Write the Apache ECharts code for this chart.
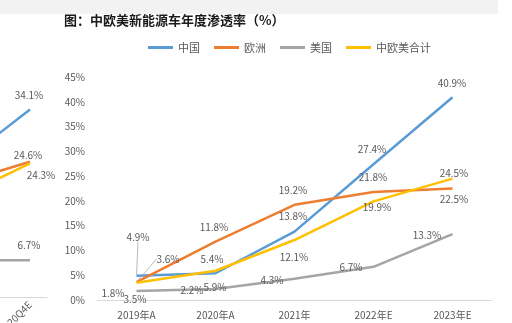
<!DOCTYPE html>
<html><head><meta charset="utf-8">
<script src="https://cdn.jsdelivr.net/npm/echarts@6/dist/echarts.min.js"></script>
<style>html,body{margin:0;padding:0;background:#fff}#c{width:512px;height:323px}</style>
</head><body><div id="c"></div>
<script>
// ---- data ----
const titleText = '图：中欧美新能源车年度渗透率（%）';
const seriesNames = ['中国', '欧洲', '美国', '中欧美合计'];
const categories = ['2019年A', '2020年A', '2021年', '2022年E', '2023年E'];
const china = [4.9, 5.4, 13.8, 27.4, 40.9];
const europe = [3.6, 11.8, 19.2, 21.8, 22.5];
const usa = [1.8, 2.2, 4.3, 6.7, 13.3];
const total = [3.5, 5.9, 12.1, 19.9, 24.5];
const yMin = 0, yMax = 45, yStep = 5;

// neighbouring (cropped) chart on the left
const leftCategories = ['2020Q1', '2020Q2', '2020Q3', '2020Q4E'];
const leftChina = [21.0, 25.0, 29.3, 34.1];
const leftEurope = [18.5, 20.5, 22.7, 24.6];
const leftUsa = [5.0, 5.8, 6.7, 6.7];
const leftTotal = [16.0, 18.5, 21.3, 24.3];

// ---- styles / label placement ----
const colors = ['#5B9BD5', '#ED7D31', '#A5A5A5', '#FFC000'];
const txt = '#595959';
const font = '"Noto Sans CJK SC", "Noto Sans", sans-serif';
const labelOffsets = [
  [[1.5, -39], [-3.5, -14], [-1.5, -15], [-1.5, -15], [-0.5, -14]],
  [[31.5, -23], [-1.5, -14.5], [-1.5, -15], [-0.5, -15], [1.5, 10.5]],
  [[-23.5, 2], [-23.5, 1], [-22.5, 1.3], [-22.5, 0.2], [-25.5, 1]],
  [[-1.5, 16.3], [-0.5, 16.2], [-0.5, 17], [3.5, 5.6], [1.5, -5.6]]
];
const leftOffsets = [[-1, -14], [-2, -6], [-1, -15], [11, 12]];
const clear = 'rgba(0,0,0,0)';

const chart = echarts.init(document.getElementById('c'), null, {renderer: 'canvas'});

function mainSeries(i, values) {
  return {
    name: seriesNames[i], type: 'line', xAxisIndex: 0, yAxisIndex: 0,
    data: values.map((v, k) => (k === 0 && i < 2) ? {value: v, labelLine: {show: true, lineStyle: {color: '#a6a6a6', width: 0.8}}} : v),
    symbol: 'circle', symbolSize: 2, showSymbol: true,
    itemStyle: {color: clear, borderWidth: 0},
    lineStyle: {color: colors[i], width: 2.5},
    label: {show: true, position: 'inside', formatter: p => p.value + '%', color: txt, fontSize: 10, fontFamily: font},
    labelLine: {show: false},
    labelLayout: p => ({dx: labelOffsets[i][p.dataIndex][0], dy: labelOffsets[i][p.dataIndex][1]}),
    emphasis: {disabled: true}, animation: false
  };
}
function leftSeries(i, values) {
  const last = values.length - 1;
  return {
    name: seriesNames[i], type: 'line', xAxisIndex: 1, yAxisIndex: 1,
    data: values.map((v, k) => k === last ? {value: v, label: {show: true}} : v),
    symbol: 'circle', symbolSize: 2, showSymbol: true,
    itemStyle: {color: clear, borderWidth: 0},
    lineStyle: {color: colors[i], width: 2.5},
    label: {show: false, position: 'inside', formatter: p => p.value + '%', color: txt, fontSize: 10, fontFamily: font},
    labelLayout: p => ({dx: leftOffsets[i][0], dy: leftOffsets[i][1]}),
    emphasis: {disabled: true}, animation: false
  };
}

chart.setOption({
  animation: false,
  backgroundColor: '#ffffff',
  graphic: [{type: 'rect', left: 0, top: 0, shape: {width: 498, height: 14}, style: {fill: '#f2f2f2'}, silent: true}],
  title: {text: titleText, left: 64, top: 14, padding: 0,
    textStyle: {fontSize: 13, fontWeight: 'bold', color: '#1a1a1a', fontFamily: font}},
  legend: {
    data: seriesNames.map((n, i) => ({name: n, itemStyle: {color: colors[i]}})),
    left: 148, top: 42, padding: 0, itemGap: 14,
    itemWidth: 25, itemHeight: 3, icon: 'rect',
    textStyle: {color: txt, fontSize: 11, fontFamily: font}
  },
  grid: [
    {left: 97, right: 20, top: 77, bottom: 23, outerBoundsMode: 'none', containLabel: false},
    {left: -89, width: 136, top: 49.5, bottom: 26, outerBoundsMode: 'none', containLabel: false}
  ],
  xAxis: [
    {type: 'category', gridIndex: 0, data: categories, boundaryGap: true,
      axisLine: {lineStyle: {color: '#d9d9d9'}}, axisTick: {show: false},
      axisLabel: {color: txt, fontSize: 10, margin: 10, fontFamily: font}},
    {type: 'category', gridIndex: 1, data: leftCategories, boundaryGap: true,
      axisLine: {lineStyle: {color: '#d9d9d9'}}, axisTick: {show: false},
      axisLabel: {color: txt, fontSize: 10, margin: 6, rotate: 45, fontFamily: font}}
  ],
  yAxis: [
    {type: 'value', gridIndex: 0, min: yMin, max: yMax, interval: yStep,
      axisLine: {show: false}, axisTick: {show: false}, splitLine: {show: false},
      axisLabel: {color: txt, fontSize: 10, margin: 12, formatter: '{value}%', fontFamily: font}},
    {type: 'value', gridIndex: 1, min: yMin, max: yMax, interval: yStep, show: false, splitLine: {show: false}}
  ],
  series: [
    mainSeries(0, china), mainSeries(1, europe), mainSeries(2, usa), mainSeries(3, total),
    leftSeries(0, leftChina), leftSeries(1, leftEurope), leftSeries(2, leftUsa), leftSeries(3, leftTotal)
  ]
});
</script></body></html>
